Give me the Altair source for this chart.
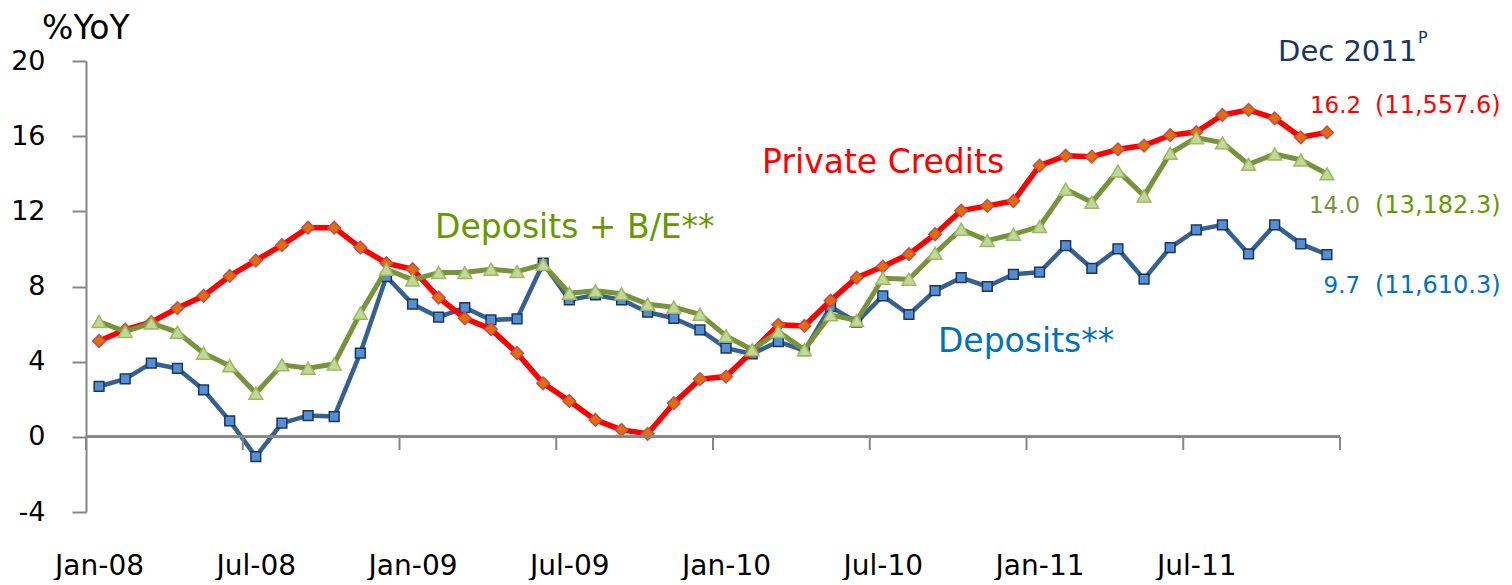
import altair as alt
import pandas as pd

FONT = "DejaVu Sans"

years = ["08", "09", "10", "11"]
month_names = ["Jan", "Feb", "Mar", "Apr", "May", "Jun", "Jul", "Aug", "Sep", "Oct", "Nov", "Dec"]
months = [f"{m}-{y}" for y in years for m in month_names]

private_credits = [5.1, 5.7, 6.1, 6.85, 7.5, 8.56, 9.38, 10.2, 11.13, 11.13,
                   10.07, 9.24, 8.92, 7.41, 6.31, 5.73, 4.45, 2.85, 1.91, 0.9,
                   0.37, 0.16, 1.79, 3.07, 3.21, 4.54, 5.96, 5.9, 7.25, 8.47,
                   9.06, 9.72, 10.78, 12.04, 12.29, 12.55, 14.43, 14.96, 14.91, 15.3,
                   15.5, 16.05, 16.22, 17.13, 17.4, 16.95, 15.94, 16.2]
deposits = [2.68, 3.08, 3.92, 3.64, 2.5, 0.85, -1.05, 0.73, 1.13, 1.08,
            4.45, 8.53, 7.06, 6.37, 6.88, 6.22, 6.28, 9.24, 7.29, 7.55,
            7.29, 6.63, 6.31, 5.69, 4.72, 4.41, 5.07, 4.59, 6.93, 6.1,
            7.5, 6.51, 7.78, 8.47, 8.0, 8.65, 8.76, 10.18, 8.97, 10.0,
            8.39, 10.07, 11.01, 11.28, 9.73, 11.28, 10.27, 9.7]
deposits_be = [6.13, 5.6, 6.05, 5.57, 4.45, 3.78, 2.32, 3.83, 3.65, 3.88,
               6.58, 8.92, 8.35, 8.74, 8.74, 8.92, 8.79, 9.18, 7.64, 7.77,
               7.61, 7.06, 6.9, 6.52, 5.37, 4.63, 5.6, 4.63, 6.49, 6.19,
               8.44, 8.39, 9.77, 11.05, 10.44, 10.78, 11.19, 13.18, 12.48, 14.15,
               12.82, 15.09, 15.92, 15.65, 14.5, 15.05, 14.73, 14.0]

y_ticks = [-4, 0, 4, 8, 12, 16, 20]
label_every = 6

df = pd.DataFrame({
    "idx": list(range(len(months))),
    "month": months,
    "credits": private_credits,
    "deposits": deposits,
    "deposits_be": deposits_be,
})

n = len(months)
boundaries = [-0.5 + k * label_every for k in range(n // label_every + 1)]
ticks_df = pd.DataFrame({"b": boundaries})

xscale = alt.Scale(domain=[-0.5, n - 0.5], nice=False, zero=False)
yscale = alt.Scale(domain=[y_ticks[0], y_ticks[-1]], nice=False, zero=False)

label_expr = "[" + ",".join(f"'{m}'" for m in months) + "][datum.value]"

x_axis = alt.Axis(values=list(range(0, n, label_every)), labelExpr=label_expr, title=None,
                  domain=False, ticks=False, tickSize=0, grid=False,
                  labelFontSize=28, labelFont=FONT, labelColor="black",
                  labelPadding=40, labelFlush=False, labelOverlap=False)
y_axis = alt.Axis(values=y_ticks, title=None, grid=False,
                  labelExpr="'' + datum.value",
                  domainColor="#868686", domainWidth=2,
                  tickColor="#868686", tickWidth=2, tickSize=14,
                  labelFontSize=27, labelFont=FONT, labelColor="black", labelPadding=27)

X = alt.X("idx:Q", scale=xscale, axis=x_axis)


def series(field, line_color, line_width, shape, fill, stroke, size):
    base = alt.Chart(df).encode(x=X, y=alt.Y(f"{field}:Q", scale=yscale, axis=y_axis))
    line = base.mark_line(color=line_color, strokeWidth=line_width, strokeJoin="round")
    pts = base.mark_point(shape=shape, filled=True, fill=fill, stroke=stroke,
                          strokeWidth=1.5, size=size, opacity=1)
    return line + pts


blue = series("deposits", "#376092", 4.5, "square", "#558ED5", "#17375E", 95)
red = series("credits", "#FF0000", 5.5, "diamond", "#E46C0A", "#C0504D", 160)
green = series("deposits_be", "#77933C", 5, "triangle-up", "#C3D69B", "#9BBB59", 190)

zero_line = alt.Chart(ticks_df).mark_rule(color="#868686", strokeWidth=2).encode(
    x=alt.datum(boundaries[0], scale=xscale),
    x2=alt.datum(boundaries[-1]),
    y=alt.datum(0, scale=yscale),
)
x_ticks = alt.Chart(ticks_df).mark_rule(color="#868686", strokeWidth=2).encode(
    x=alt.X("b:Q", scale=xscale, axis=x_axis),
    y=alt.datum(0, scale=yscale),
    y2=alt.datum(-0.7),
)

# annotations: text, x (month index units), y (%YoY units), size, color, align
ann_text = ["%YoY", "Private Credits", "Deposits + B/E**", "Deposits**", "Dec 2011", "P",
            "16.2", "(11,557.6)", "14.0", "(13,182.3)", "9.7", "(11,610.3)"]
ann_x = [-2.18, 25.38, 12.86, 32.11, 45.13, 50.49, 48.31, 48.84, 48.27, 48.84, 48.27, 48.84]
ann_y = [21.15, 14.04, 10.59, 4.52, 19.99, 20.98, 17.22, 17.22, 11.9, 11.9, 7.64, 7.64]
ann_size = [33, 33, 33, 33, 29, 16, 23, 24, 23, 24, 23, 24]
ann_color = ["black", "#FF0000", "#669900", "#0070C0", "#17375E", "#17375E",
             "#FF0000", "#FF0000", "#77933C", "#669900", "#0070C0", "#0070C0"]
ann_align = ["left", "left", "left", "left", "left", "left",
             "right", "left", "right", "left", "right", "left"]

ann_layers = []
for t, ax, ay, s, c, al in zip(ann_text, ann_x, ann_y, ann_size, ann_color, ann_align):
    d = pd.DataFrame({"idx": [ax], "val": [ay], "label": [t]})
    ann_layers.append(
        alt.Chart(d).mark_text(align=al, baseline="alphabetic", font=FONT, fontSize=s, color=c)
        .encode(x=X, y=alt.Y("val:Q", scale=yscale, axis=y_axis), text="label:N")
    )

chart = alt.layer(blue, red, green, zero_line, x_ticks, *ann_layers).properties(
    width=1254, height=451,
    padding={"left": 78, "top": 53, "right": 164, "bottom": 68},
    autosize=alt.AutoSizeParams(type="none"),
    background="white",
).configure_view(stroke=None)

chart.save("out.html", embed_options={"renderer": "svg", "actions": False})
